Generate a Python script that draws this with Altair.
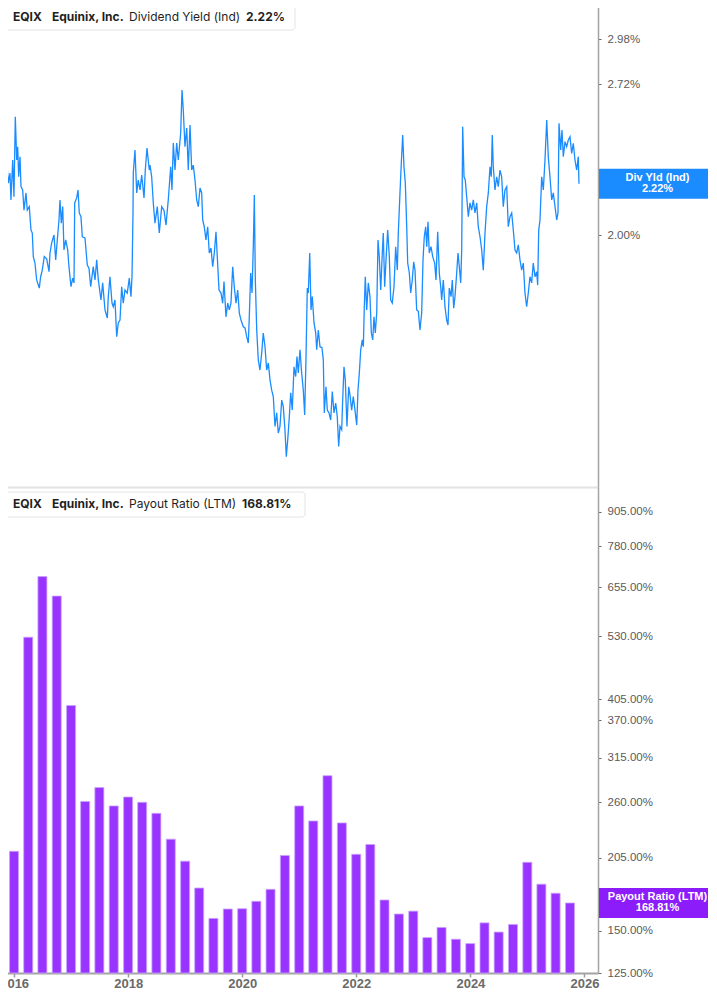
import altair as alt
import pandas as pd

# ---------------- Dividend Yield (Ind), % ----------------
yield_years = [
    2015.840, 2015.857, 2015.876, 2015.895, 2015.921, 2015.955, 2015.983, 2016.012, 2016.029, 2016.059,
    2016.081, 2016.104, 2016.128, 2016.145, 2016.162, 2016.185, 2016.202, 2016.231, 2016.254, 2016.288,
    2016.310, 2016.345, 2016.374, 2016.397, 2016.414, 2016.443, 2016.472, 2016.517, 2016.541, 2016.569,
    2016.603, 2016.645, 2016.685, 2016.702, 2016.731, 2016.771, 2016.800, 2016.828, 2016.857, 2016.874,
    2016.897, 2016.921, 2016.943, 2016.973, 2017.007, 2017.029, 2017.064, 2017.093, 2017.116, 2017.128,
    2017.162, 2017.185, 2017.207, 2017.236, 2017.259, 2017.305, 2017.345, 2017.374, 2017.404, 2017.448,
    2017.478, 2017.507, 2017.535, 2017.581, 2017.610, 2017.650, 2017.690, 2017.707, 2017.736, 2017.771,
    2017.793, 2017.822, 2017.852, 2017.879, 2017.909, 2017.938, 2017.965, 2017.995, 2018.034, 2018.069,
    2018.098, 2018.116, 2018.133, 2018.138, 2018.167, 2018.197, 2018.224, 2018.254, 2018.283, 2018.323,
    2018.345, 2018.374, 2018.414, 2018.426, 2018.455, 2018.483, 2018.512, 2018.552, 2018.586, 2018.628,
    2018.667, 2018.702, 2018.741, 2018.783, 2018.805, 2018.828, 2018.857, 2018.886, 2018.914, 2018.955,
    2018.978, 2019.000, 2019.029, 2019.059, 2019.086, 2019.116, 2019.145, 2019.172, 2019.202, 2019.231,
    2019.259, 2019.288, 2019.317, 2019.335, 2019.362, 2019.391, 2019.421, 2019.448, 2019.478, 2019.507,
    2019.535, 2019.564, 2019.586, 2019.616, 2019.650, 2019.679, 2019.702, 2019.736, 2019.766, 2019.793,
    2019.822, 2019.852, 2019.879, 2019.909, 2019.938, 2019.966, 2019.995, 2020.035, 2020.064, 2020.093,
    2020.121, 2020.138, 2020.162, 2020.185, 2020.207, 2020.225, 2020.242, 2020.266, 2020.293, 2020.322,
    2020.352, 2020.379, 2020.409, 2020.438, 2020.466, 2020.495, 2020.524, 2020.552, 2020.581, 2020.610,
    2020.638, 2020.667, 2020.697, 2020.724, 2020.753, 2020.776, 2020.800, 2020.828, 2020.852, 2020.879,
    2020.909, 2020.938, 2020.960, 2020.983, 2021.012, 2021.041, 2021.069, 2021.093, 2021.116, 2021.138,
    2021.155, 2021.180, 2021.202, 2021.224, 2021.254, 2021.283, 2021.300, 2021.328, 2021.357, 2021.391,
    2021.414, 2021.431, 2021.460, 2021.483, 2021.512, 2021.541, 2021.569, 2021.598, 2021.628, 2021.655,
    2021.679, 2021.702, 2021.731, 2021.748, 2021.771, 2021.793, 2021.822, 2021.852, 2021.874, 2021.903,
    2021.931, 2021.960, 2021.990, 2022.012, 2022.035, 2022.059, 2022.086, 2022.104, 2022.121, 2022.138,
    2022.162, 2022.190, 2022.219, 2022.242, 2022.266, 2022.288, 2022.310, 2022.335, 2022.357, 2022.379,
    2022.404, 2022.431, 2022.448, 2022.472, 2022.495, 2022.524, 2022.552, 2022.576, 2022.603, 2022.633,
    2022.662, 2022.690, 2022.707, 2022.736, 2022.759, 2022.783, 2022.805, 2022.828, 2022.852, 2022.869,
    2022.897, 2022.921, 2022.948, 2022.972, 2022.995, 2023.024, 2023.052, 2023.081, 2023.110, 2023.133,
    2023.155, 2023.179, 2023.197, 2023.219, 2023.241, 2023.271, 2023.300, 2023.334, 2023.357, 2023.386,
    2023.414, 2023.438, 2023.455, 2023.483, 2023.512, 2023.541, 2023.564, 2023.586, 2023.616, 2023.638,
    2023.662, 2023.684, 2023.714, 2023.736, 2023.759, 2023.783, 2023.800, 2023.817, 2023.840, 2023.862,
    2023.886, 2023.914, 2023.943, 2023.972, 2024.000, 2024.029, 2024.059, 2024.086, 2024.116, 2024.145,
    2024.172, 2024.202, 2024.231, 2024.259, 2024.288, 2024.310, 2024.327, 2024.345, 2024.374, 2024.403,
    2024.431, 2024.460, 2024.489, 2024.517, 2024.546, 2024.576, 2024.603, 2024.633, 2024.662, 2024.690,
    2024.719, 2024.748, 2024.776, 2024.805, 2024.834, 2024.862, 2024.891, 2024.920, 2024.948, 2024.977,
    2025.006, 2025.034, 2025.064, 2025.093, 2025.110, 2025.128, 2025.150, 2025.179, 2025.207, 2025.236,
    2025.266, 2025.293, 2025.322, 2025.352, 2025.379, 2025.409, 2025.438, 2025.460, 2025.478, 2025.507,
    2025.529, 2025.552, 2025.581, 2025.610, 2025.638, 2025.667, 2025.696, 2025.724, 2025.753, 2025.783,
    2025.810, 2025.822,
]
yield_values = [
    2.237, 2.322, 2.283, 2.354, 2.252, 2.330, 2.223, 2.269, 2.148, 2.330,
    2.162, 2.545, 2.330, 2.394, 2.252, 2.346, 2.207, 2.192, 2.104, 2.179,
    2.104, 2.119, 2.020, 2.008, 1.914, 1.889, 1.825, 1.795, 1.837, 1.862,
    1.914, 1.905, 1.856, 1.928, 1.968, 2.000, 1.901, 1.980, 2.062, 2.148,
    2.049, 2.119, 1.940, 1.980, 1.940, 1.875, 1.800, 1.832, 1.814, 2.135,
    2.157, 2.192, 2.092, 2.076, 1.993, 1.988, 1.881, 1.869, 1.800, 1.875,
    1.825, 1.901, 1.825, 1.752, 1.814, 1.717, 1.689, 1.764, 1.837, 1.741,
    1.728, 1.752, 1.626, 1.672, 1.682, 1.800, 1.741, 1.788, 1.777, 1.832,
    1.764, 1.837, 2.092, 2.269, 2.378, 2.179, 2.237, 2.192, 2.260, 2.157,
    2.283, 2.388, 2.283, 2.306, 2.252, 2.135, 2.049, 2.119, 2.008, 2.119,
    2.104, 2.041, 2.148, 2.298, 2.192, 2.412, 2.283, 2.412, 2.330, 2.462,
    2.687, 2.580, 2.394, 2.487, 2.283, 2.502, 2.283, 2.306, 2.237, 2.148,
    2.119, 2.201, 2.179, 2.062, 2.034, 1.980, 2.034, 1.928, 1.948, 1.875,
    1.928, 2.013, 1.914, 1.788, 1.777, 1.741, 1.819, 1.693, 1.741, 1.717,
    1.741, 1.875, 1.800, 1.741, 1.788, 1.706, 1.682, 1.659, 1.655, 1.626,
    1.605, 1.693, 1.851, 1.777, 1.953, 2.170, 1.825, 1.648, 1.551, 1.519,
    1.573, 1.638, 1.593, 1.519, 1.541, 1.489, 1.458, 1.439, 1.354, 1.392,
    1.336, 1.354, 1.429, 1.410, 1.345, 1.273, 1.317, 1.381, 1.450, 1.400,
    1.529, 1.499, 1.561, 1.510, 1.583, 1.510, 1.458, 1.386, 1.561, 1.795,
    1.777, 1.928, 1.717, 1.764, 1.672, 1.638, 1.583, 1.648, 1.593, 1.590,
    1.551, 1.392, 1.468, 1.400, 1.392, 1.372, 1.454, 1.392, 1.420, 1.381,
    1.300, 1.354, 1.345, 1.429, 1.529, 1.489, 1.354, 1.468, 1.444, 1.400,
    1.439, 1.400, 1.358, 1.458, 1.510, 1.583, 1.615, 1.593, 1.728, 1.837,
    1.717, 1.814, 1.764, 1.638, 1.615, 1.693, 1.638, 1.706, 1.980, 1.914,
    1.788, 1.928, 2.008, 1.800, 1.901, 2.020, 1.914, 1.752, 1.741, 1.800,
    1.953, 1.862, 2.008, 2.179, 2.316, 2.452, 2.298, 2.223, 2.034, 1.889,
    1.851, 1.777, 1.825, 1.894, 1.862, 1.717, 1.712, 1.648, 1.706, 1.901,
    1.993, 2.034, 1.953, 2.055, 1.928, 1.953, 1.914, 1.889, 1.825, 2.013,
    1.851, 1.800, 1.752, 1.825, 1.728, 1.682, 1.665, 1.795, 1.764, 1.825,
    1.723, 1.764, 1.851, 1.928, 1.875, 1.814, 1.940, 2.494, 2.252, 2.237,
    2.162, 2.076, 2.135, 2.104, 2.148, 2.092, 2.135, 2.034, 1.993, 1.940,
    1.862, 2.008, 2.119, 2.179, 2.298, 2.252, 2.452, 2.298, 2.192, 2.252,
    2.207, 2.283, 2.252, 2.119, 2.192, 2.207, 2.034, 2.076, 2.092, 2.020,
    1.940, 1.928, 1.960, 1.901, 1.862, 1.889, 1.777, 1.728, 1.777, 1.837,
    1.814, 1.889, 1.837, 1.856, 1.806, 2.020, 2.062, 2.252, 2.192, 2.330,
    2.528, 2.346, 2.252, 2.148, 2.179, 2.119, 2.062, 2.092, 2.511, 2.378,
    2.477, 2.346, 2.419, 2.394, 2.427, 2.443, 2.362, 2.411, 2.330, 2.283,
    2.346, 2.220,
]

# ---------------- Payout Ratio (LTM), quarterly, % ----------------
payout_quarters = [
    "2015-12-31",
    "2016-03-31", "2016-06-30", "2016-09-30", "2016-12-31",
    "2017-03-31", "2017-06-30", "2017-09-30", "2017-12-31",
    "2018-03-31", "2018-06-30", "2018-09-30", "2018-12-31",
    "2019-03-31", "2019-06-30", "2019-09-30", "2019-12-31",
    "2020-03-31", "2020-06-30", "2020-09-30", "2020-12-31",
    "2021-03-31", "2021-06-30", "2021-09-30", "2021-12-31",
    "2022-03-31", "2022-06-30", "2022-09-30", "2022-12-31",
    "2023-03-31", "2023-06-30", "2023-09-30", "2023-12-31",
    "2024-03-31", "2024-06-30", "2024-09-30", "2024-12-31",
    "2025-03-31", "2025-06-30", "2025-09-30",
]
payout_values = [
    210.7,
    528.0, 685.0, 630.0, 394.0,
    261.0, 277.0, 256.0, 266.0,
    260.0, 248.0, 222.0, 202.0,
    180.0, 158.0, 164.5, 164.7,
    170.0, 179.0, 207.0, 256.0,
    240.0, 291.5, 238.0, 208.0,
    217.0, 171.0, 161.0, 163.0,
    145.5, 152.0, 144.5, 141.8,
    155.0, 149.0, 154.0, 201.0,
    183.0, 176.0, 168.81,
]

yield_ticks = [2.00, 2.72, 2.98]
payout_ticks = [125, 150, 205, 260, 315, 370, 405, 530, 655, 780, 905]
year_ticks = [2016, 2018, 2020, 2022, 2024, 2026]

ticker = "EQIX"
company = "Equinix, Inc."
yield_name = "Dividend Yield (Ind)"
yield_last = "2.22%"
yield_tag = "Div Yld (Ind)"
payout_name = "Payout Ratio (LTM)"
payout_last = "168.81%"

BLUE = "#1a8cff"
PURPLE_BAR = "#9933ff"
PURPLE_TAG = "#8d1cfb"
AXIS_FONT = "Liberation Sans"
HEAD_FONT = "Inter"

assert len(yield_years) == len(yield_values)
assert len(payout_quarters) == len(payout_values)

line_df = pd.DataFrame({"year": yield_years, "value": yield_values})
qd = pd.to_datetime(pd.Series(payout_quarters))
bar_df = pd.DataFrame({
    "year": qd.dt.year + (qd.dt.dayofyear - 0.5) / (365 + qd.dt.is_leap_year.astype(int)),
    "value": payout_values,
})

W = 598
H_TOP = 487
H_BOT = 486

x_scale = alt.Scale(domain=[2015.84, 2026.15], nice=False, zero=False)
y_top_scale = alt.Scale(type="log", domain=[1.197, 3.228], nice=False, zero=False)
y_bot_scale = alt.Scale(type="log", domain=[125, 1006], nice=False, zero=False)

pct = "format(datum.value, '.2f') + '%'"


def y_axis(values):
    return alt.Axis(orient="right", values=values, labelExpr=pct, title=None, grid=False,
                    domainColor="#a3a3a3", domainWidth=1.5, tickColor="#666666", tickSize=3,
                    tickWidth=1, labelPadding=6, labelFont=AXIS_FONT, labelFontSize=11.5,
                    labelColor="#5a5a5a", labelOverlap=False)


y_top_axis = y_axis(yield_ticks)
y_bot_axis = y_axis(payout_ticks)

x_top_axis = alt.Axis(labels=False, ticks=False, grid=False, title=None,
                      domainColor="#e2e2e2", domainWidth=2)
x_bot_axis = alt.Axis(values=year_ticks, format="d", title=None, grid=False,
                      labelFlush=False, labelOverlap=False, labelFont=AXIS_FONT,
                      labelFontSize=13, labelFontWeight="bold", labelColor="#6a6a6a",
                      labelPadding=0, tickSize=4, tickColor="#9a9a9a", tickWidth=1.5,
                      domainColor="#a3a3a3", domainWidth=2)

anchor = pd.DataFrame({"k": [0]})


def header(parts, accent, box_right, cy):
    layers = [
        alt.Chart(anchor).mark_rect(fill="white", stroke="#e4e4e4", strokeWidth=1, cornerRadius=3)
        .encode(x=alt.value(4), x2=alt.value(box_right), y=alt.value(cy - 12), y2=alt.value(cy + 13)),
        alt.Chart(anchor).mark_rect(fill=accent, cornerRadius=1.5)
        .encode(x=alt.value(4), x2=alt.value(7.5), y=alt.value(cy - 11.5), y2=alt.value(cy + 12.5)),
    ]
    for txt, xpos, weight in parts:
        layers.append(
            alt.Chart(anchor).mark_text(text=txt, align="left", baseline="middle", font=HEAD_FONT,
                                        fontSize=12, fontWeight=weight, color="#1f1f1f")
            .encode(x=alt.value(xpos), y=alt.value(cy))
        )
    return layers


def tag(value, lines, color, scale, axis):
    df = pd.DataFrame({"v": [value]})
    shape = "M-1,-0.2564L1,-0.2564L1,0.2564L-1,0.2564Z"
    layers = [
        alt.Chart(df).mark_point(shape=shape, size=117 ** 2, filled=True, opacity=1,
                                 color=color, strokeWidth=0)
        .encode(x=alt.value(657.5), y=alt.Y("v:Q", scale=scale, axis=axis))
    ]
    for txt, dy in zip(lines, [-5.5, 5.5]):
        layers.append(
            alt.Chart(df).mark_text(text=txt, align="center", baseline="middle", dy=dy,
                                    font=AXIS_FONT, fontSize=11, fontWeight="bold", color="white")
            .encode(x=alt.value(657.5), y=alt.Y("v:Q", scale=scale, axis=axis))
        )
    return layers


line = alt.Chart(line_df).mark_line(color=BLUE, strokeWidth=1.3).encode(
    x=alt.X("year:Q", scale=x_scale, axis=x_top_axis),
    y=alt.Y("value:Q", scale=y_top_scale, axis=y_top_axis),
)

top = alt.layer(
    line,
    *header([(ticker, 13, "bold"), (company, 52, "bold"), (yield_name, 129, "normal"),
             (yield_last, 246, "bold")], BLUE, 295, 17),
    *tag(2.22, [yield_tag, yield_last], BLUE, y_top_scale, y_top_axis),
).properties(width=W, height=H_TOP)

bars = alt.Chart(bar_df).mark_bar(color=PURPLE_BAR, stroke="#c9a3ff", strokeWidth=0.8, width=9).encode(
    x=alt.X("year:Q", scale=x_scale, axis=x_bot_axis),
    y=alt.Y("value:Q", scale=y_bot_scale, axis=y_bot_axis),
    y2=alt.datum(125),
)

bottom = alt.layer(
    bars,
    *header([(ticker, 13, "bold"), (company, 52, "bold"), (payout_name, 129, "normal"),
             (payout_last, 242, "bold")], PURPLE_TAG, 305, 17),
    *tag(168.81, [payout_name, payout_last], PURPLE_TAG, y_bot_scale, y_bot_axis),
).properties(width=W, height=H_BOT)

chart = alt.vconcat(top, bottom, spacing=0).properties(
    padding={"left": -11, "top": -8, "right": -8, "bottom": 0},
    background="white",
).configure_view(stroke=None)

chart.save("out.html", embed_options={"renderer": "svg", "actions": False})
